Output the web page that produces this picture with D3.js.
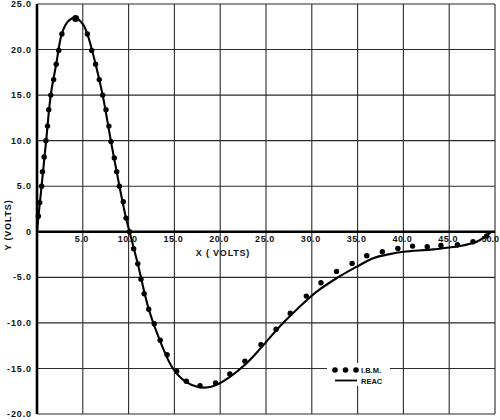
<!DOCTYPE html>
<html>
<head>
<meta charset="utf-8">
<script src="https://cdn.jsdelivr.net/npm/d3@7"></script>
<style>
  html, body { margin: 0; padding: 0; background: #fff; }
  svg { display: block; }
  text { font-family: "Liberation Sans", Arial, sans-serif; font-weight: bold; fill: #111; }
</style>
</head>
<body>
<div id="chart"></div>
<script>
// ---- data ----
const xTicks = [5, 10, 15, 20, 25, 30, 35, 40, 45, 50];
const xTickLabels = ["5.0", "10.0", "15.0", "20.0", "25.0", "30.0", "35.0", "40.0", "45.0", "50.0"];
const yTicks = [25, 20, 15, 10, 5, 0, -5, -10, -15, -20];
const yTickLabels = ["25.0", "20.0", "15.0", "10.0", "5.0", "0", "-5.0", "-10.0", "-15.0", "-20.0"];

// I.B.M. computed points (dots)
const ibmX = [0.15, 0.3, 0.5, 0.6, 0.78, 0.97, 1.15, 1.28, 1.5, 1.82, 2.1, 2.37, 2.72, 4.22,
  5.5, 5.97, 6.4, 6.8, 7.17, 7.53, 7.85, 8.08, 8.44, 8.7, 9.0, 9.42, 9.72, 10.1,
  10.55, 11.0, 11.35, 11.7, 12.2, 12.8, 13.45, 14.2, 15.25, 16.3, 17.8, 19.5, 21.05,
  22.7, 24.45, 26.1, 27.65, 29.4, 31.0, 32.7, 34.4, 36.0, 37.7, 39.4, 41.0, 42.6,
  44.1, 45.9, 47.6, 49.1];
const ibmY = [1.7, 3.2, 5.0, 6.6, 8.2, 10.0, 11.6, 13.4, 15.0, 16.7, 18.4, 19.9, 21.7, 23.4,
  21.7, 19.9, 18.4, 16.7, 15.0, 13.4, 11.6, 9.9, 8.1, 6.6, 5.0, 3.3, 1.5, 0.0,
  -1.85, -3.5, -5.2, -6.8, -8.5, -10.1, -11.9, -13.5, -15.3, -16.4, -16.9, -16.6, -15.6,
  -14.2, -12.4, -10.7, -8.95, -7.06, -5.6, -4.35, -3.47, -2.63, -2.2, -1.83, -1.57, -1.64,
  -1.5, -1.42, -1.1, -0.47];

// REAC analog-computer curve (solid line)
const reacX = [0, 0.15, 0.5, 1.0, 1.5, 2.1, 2.7, 3.4, 4.2, 5.0, 5.5, 6.4, 7.17, 8.08, 9.0,
  9.72, 10.1, 11.0, 12.2, 13.4, 14.9, 16.3, 17.5, 18.5, 19.6, 21.1, 22.7, 24.4, 26.5,
  28.5, 30.5, 32.7, 34.9, 36.7, 38.5, 40.0, 43.3, 46.2, 48.0, 49.1, 49.6];
const reacY = [0, 1.6, 5.0, 10.0, 15.0, 18.4, 21.7, 23.1, 23.5, 22.8, 21.7, 18.4, 15.0, 9.9, 5.0,
  1.5, 0, -3.5, -8.5, -11.9, -15.1, -16.5, -17.0, -17.1, -16.8, -15.9, -14.6, -12.8, -10.4,
  -8.4, -6.6, -5.1, -3.84, -2.9, -2.45, -2.2, -1.93, -1.57, -1.1, -0.4, 0];

const legendLabels = ["I.B.M.", "REAC"];

// ---- layout ----
const W = 500, H = 420;
const m = { left: 37, right: 5, top: 4, bottom: 6 };
const svg = d3.select("#chart").append("svg").attr("width", W).attr("height", H);

const x = d3.scaleLinear().domain([0, 50]).range([m.left, W - m.right]);
const y = d3.scaleLinear().domain([-20, 25]).range([H - m.bottom, m.top]);

// grid
const g = svg.append("g");
const gridX = [0].concat(xTicks);
g.selectAll("line.vx").data(gridX).enter().append("line")
  .attr("x1", d => x(d)).attr("x2", d => x(d))
  .attr("y1", y(25)).attr("y2", y(-20))
  .attr("stroke", "#2a2a2a").attr("stroke-width", 1.1);
g.selectAll("line.hy").data(yTicks).enter().append("line")
  .attr("x1", x(0)).attr("x2", x(50))
  .attr("y1", d => y(d)).attr("y2", d => y(d))
  .attr("stroke", "#2a2a2a").attr("stroke-width", 1.1);

// heavy axes
svg.append("line").attr("x1", x(0)).attr("x2", x(50)).attr("y1", y(0)).attr("y2", y(0))
  .attr("stroke", "#000").attr("stroke-width", 2.6);
svg.append("line").attr("x1", x(0)).attr("x2", x(0)).attr("y1", y(25)).attr("y2", y(-20))
  .attr("stroke", "#000").attr("stroke-width", 2.6);

// y tick labels
svg.selectAll("text.yt").data(yTicks).enter().append("text")
  .attr("x", 32).attr("y", d => y(d)).attr("dy", "0.35em")
  .attr("text-anchor", "end").attr("font-size", 9).attr("letter-spacing", 0.9)
  .text((d, i) => yTickLabels[i]);

// x tick labels (last one kept inside the frame)
svg.selectAll("text.xt").data(xTicks).enter().append("text")
  .attr("x", d => d === 50 ? W - 1 : x(d) - 1).attr("y", y(0) + 10)
  .attr("text-anchor", d => d === 50 ? "end" : "middle")
  .attr("font-size", 9).attr("letter-spacing", d => d === 50 ? 0 : 0.6)
  .text((d, i) => xTickLabels[i]);

// axis titles
svg.append("text").attr("x", 223).attr("y", 256).attr("text-anchor", "middle")
  .attr("font-size", 9).attr("letter-spacing", 0.8).text("X ( VOLTS)");
svg.append("text").attr("transform", "translate(11,225) rotate(-90)").attr("text-anchor", "middle")
  .attr("font-size", 9).attr("letter-spacing", 0.8).text("Y (VOLTS)");

// REAC line
const reac = reacX.map((v, i) => [v, reacY[i]]);
svg.append("path").datum(reac)
  .attr("d", d3.line().x(d => x(d[0])).y(d => y(d[1])).curve(d3.curveCatmullRom.alpha(0.5)))
  .attr("fill", "none").attr("stroke", "#000").attr("stroke-width", 2.1);

// IBM dots
const ibm = ibmX.map((v, i) => [v, ibmY[i]]);
svg.selectAll("circle.ibm").data(ibm).enter().append("circle")
  .attr("cx", d => x(d[0])).attr("cy", d => y(d[1]))
  .attr("r", d => d[1] > 23 ? 3.5 : 2.7).attr("fill", "#000");

// legend
const lg = svg.append("g");
lg.append("rect").attr("x", 327).attr("y", 363).attr("width", 63).attr("height", 23).attr("fill", "#fff");
lg.selectAll("circle").data([0, 1, 2]).enter().append("circle")
  .attr("cx", d => 335 + d * 10.5).attr("cy", 370).attr("r", 2.8).attr("fill", "#000");
lg.append("text").attr("x", 361).attr("y", 373).attr("font-size", 7.5).text(legendLabels[0]);
lg.append("line").attr("x1", 335).attr("x2", 357).attr("y1", 380.5).attr("y2", 380.5)
  .attr("stroke", "#000").attr("stroke-width", 1.8);
lg.append("text").attr("x", 361).attr("y", 384).attr("font-size", 7.5).text(legendLabels[1]);
</script>
</body>
</html>
